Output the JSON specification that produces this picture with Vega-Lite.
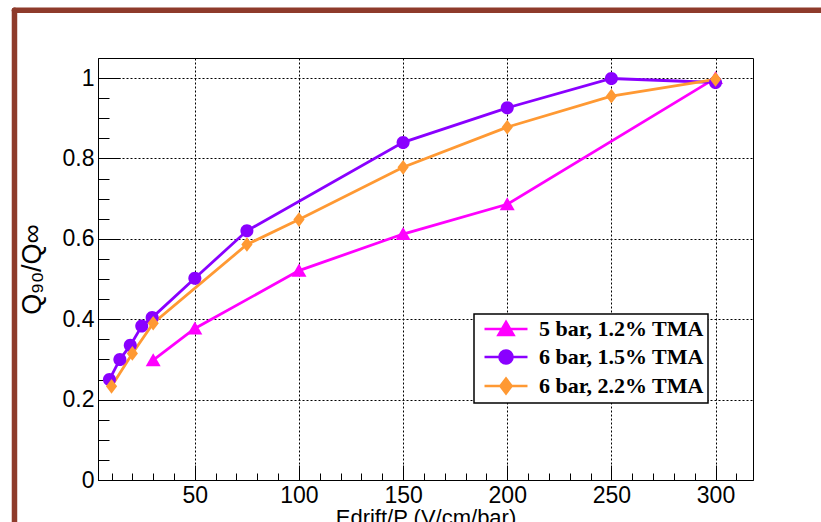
{
  "$schema": "https://vega.github.io/schema/vega-lite/v6.json",
  "width": 655,
  "height": 422,
  "autosize": {"type": "none"},
  "padding": {"left": 98, "top": 58, "right": 68, "bottom": 42},
  "background": "white",
  "config": {
    "view": {"stroke": "black", "strokeWidth": 1},
    "legend": {"strokeWidth": 1.5}
  },
  "resolve": {"axis": {"x": "independent", "y": "independent"}},
  "data": {
    "values": [
      {"series": "5 bar, 1.2% TMA", "E": 30, "Q": 0.298},
      {"series": "5 bar, 1.2% TMA", "E": 50, "Q": 0.377},
      {"series": "5 bar, 1.2% TMA", "E": 100, "Q": 0.521},
      {"series": "5 bar, 1.2% TMA", "E": 150, "Q": 0.612},
      {"series": "5 bar, 1.2% TMA", "E": 200, "Q": 0.686},
      {"series": "5 bar, 1.2% TMA", "E": 300, "Q": 1.0},
      {"series": "6 bar, 1.5% TMA", "E": 9, "Q": 0.25},
      {"series": "6 bar, 1.5% TMA", "E": 14, "Q": 0.3},
      {"series": "6 bar, 1.5% TMA", "E": 19, "Q": 0.335},
      {"series": "6 bar, 1.5% TMA", "E": 24.5, "Q": 0.383},
      {"series": "6 bar, 1.5% TMA", "E": 29.5, "Q": 0.404},
      {"series": "6 bar, 1.5% TMA", "E": 50, "Q": 0.502},
      {"series": "6 bar, 1.5% TMA", "E": 75, "Q": 0.62},
      {"series": "6 bar, 1.5% TMA", "E": 150, "Q": 0.84},
      {"series": "6 bar, 1.5% TMA", "E": 200, "Q": 0.926},
      {"series": "6 bar, 1.5% TMA", "E": 250, "Q": 0.999},
      {"series": "6 bar, 1.5% TMA", "E": 300, "Q": 0.989},
      {"series": "6 bar, 2.2% TMA", "E": 10, "Q": 0.233},
      {"series": "6 bar, 2.2% TMA", "E": 20, "Q": 0.315},
      {"series": "6 bar, 2.2% TMA", "E": 30, "Q": 0.39},
      {"series": "6 bar, 2.2% TMA", "E": 75, "Q": 0.586},
      {"series": "6 bar, 2.2% TMA", "E": 100, "Q": 0.648},
      {"series": "6 bar, 2.2% TMA", "E": 150, "Q": 0.778},
      {"series": "6 bar, 2.2% TMA", "E": 200, "Q": 0.878},
      {"series": "6 bar, 2.2% TMA", "E": 250, "Q": 0.955},
      {"series": "6 bar, 2.2% TMA", "E": 300, "Q": 0.997}
    ]
  },
  "layer": [
    {
      "mark": {"type": "line", "strokeWidth": 2.8},
      "encoding": {
        "x": {
          "field": "E",
          "type": "quantitative",
          "scale": {"domain": [3.5, 318], "nice": false, "zero": false},
          "axis": {
            "orient": "bottom",
            "title": "Edrift/P (V/cm/bar)",
            "values": [50, 100, 150, 200, 250, 300],
            "tickSize": -15,
            "labelPadding": 19,
            "grid": true,
            "gridDash": [2, 2],
            "gridColor": "black",
            "gridWidth": 1,
            "gridOpacity": 1,
            "tickColor": "black",
            "tickWidth": 1,
            "domainColor": "black",
            "labelFont": "Liberation Sans",
            "labelFontSize": 23,
            "labelColor": "black",
            "labelFlush": false,
            "labelOverlap": false,
            "labelBound": false,
            "titleFont": "Liberation Sans",
            "titleFontSize": 22,
            "titleFontWeight": "normal",
            "titleColor": "black",
            "titlePadding": 0
          }
        },
        "y": {
          "field": "Q",
          "type": "quantitative",
          "scale": {"domain": [0, 1.05], "nice": false},
          "axis": {
            "orient": "left",
            "title": "Q₉₀/Q∞",
            "values": [0, 0.2, 0.4, 0.6, 0.8, 1],
            "labelExpr": "format(datum.value, '.1~f')",
            "tickSize": -22,
            "labelPadding": 26,
            "grid": true,
            "gridDash": [2, 2],
            "gridColor": "black",
            "gridWidth": 1,
            "gridOpacity": 1,
            "tickColor": "black",
            "tickWidth": 1,
            "domainColor": "black",
            "labelFont": "Liberation Sans",
            "labelFontSize": 23,
            "labelColor": "black",
            "labelFlush": false,
            "labelOverlap": false,
            "labelBound": false,
            "titleFont": "Liberation Sans",
            "titleFontSize": 27,
            "titleFontWeight": "normal",
            "titleColor": "black",
            "titlePadding": 16
          }
        },
        "color": {
          "field": "series",
          "type": "nominal",
          "scale": {
            "domain": ["5 bar, 1.2% TMA", "6 bar, 1.5% TMA", "6 bar, 2.2% TMA"],
            "range": ["#ff00ff", "#8a00ff", "#ff9933"]
          },
          "legend": {
            "title": null,
            "orient": "none",
            "legendX": 376,
            "legendY": 256,
            "padding": 4,
            "symbolOffset": 17,
            "labelOffset": 22,
            "rowPadding": 4,
            "symbolSize": 196,
            "symbolStrokeWidth": 2.6,
            "labelFont": "Liberation Serif",
            "labelFontWeight": "bold",
            "labelFontSize": 22,
            "labelColor": "black",
            "labelLimit": 400,
            "fillColor": "white",
            "strokeColor": "black",
            "encode": {
              "symbols": {
                "update": {
                  "shape": {"signal": "datum.value === '5 bar, 1.2% TMA' ? 'M-3.07,0L3.07,0M0,-1L1.07,0.86L-1.07,0.86Z' : datum.value === '6 bar, 1.5% TMA' ? 'M-3.07,0L3.07,0M-0.93,0A0.93,0.93,0,1,0,0.93,0A0.93,0.93,0,1,0,-0.93,0Z' : 'M-3.07,0L3.07,0M0,-1.05L0.8,0L0,1.05L-0.8,0Z'"},
                  "strokeWidth": {"value": 2.6},
                  "opacity": {"value": 1}
                }
              }
            }
          }
        }
      }
    },
    {
      "transform": [{"filter": "datum.series === '5 bar, 1.2% TMA'"}],
      "mark": {"type": "point", "filled": true, "size": 196, "opacity": 1, "shape": "M0,-1L1.07,0.86L-1.07,0.86Z"},
      "encoding": {
        "x": {
          "field": "E",
          "type": "quantitative",
          "axis": {
            "orient": "bottom",
            "values": [10, 20, 30, 40, 60, 70, 80, 90, 110, 120, 130, 140, 160, 170, 180, 190, 210, 220, 230, 240, 260, 270, 280, 290, 310],
            "tickSize": -7,
            "tickColor": "black",
            "tickWidth": 1,
            "labels": false,
            "grid": false,
            "domain": false,
            "title": null
          }
        },
        "y": {
          "field": "Q",
          "type": "quantitative",
          "axis": {
            "orient": "left",
            "values": [0.05, 0.1, 0.15, 0.25, 0.3, 0.35, 0.45, 0.5, 0.55, 0.65, 0.7, 0.75, 0.85, 0.9, 0.95],
            "tickSize": -11,
            "tickColor": "black",
            "tickWidth": 1,
            "labels": false,
            "grid": false,
            "domain": false,
            "title": null
          }
        },
        "color": {"field": "series", "type": "nominal"}
      }
    },
    {
      "transform": [{"filter": "datum.series === '6 bar, 1.5% TMA'"}],
      "mark": {"type": "point", "filled": true, "size": 196, "opacity": 1, "shape": "M-0.93,0A0.93,0.93,0,1,0,0.93,0A0.93,0.93,0,1,0,-0.93,0Z"},
      "encoding": {
        "x": {"field": "E", "type": "quantitative", "axis": null},
        "y": {"field": "Q", "type": "quantitative", "axis": null},
        "color": {"field": "series", "type": "nominal"}
      }
    },
    {
      "transform": [{"filter": "datum.series === '6 bar, 2.2% TMA'"}],
      "mark": {"type": "point", "filled": true, "size": 196, "opacity": 1, "shape": "M0,-1.05L0.8,0L0,1.05L-0.8,0Z"},
      "encoding": {
        "x": {"field": "E", "type": "quantitative", "axis": null},
        "y": {"field": "Q", "type": "quantitative", "axis": null},
        "color": {"field": "series", "type": "nominal"}
      }
    },
    {
      "data": {"values": [{}]},
      "mark": {"type": "rule", "color": "#8e3b2b", "strokeWidth": 5.5, "strokeCap": "round"},
      "encoding": {
        "x": {"datum": -36.6, "type": "quantitative", "axis": null},
        "y": {"datum": 1.1687, "type": "quantitative", "axis": null},
        "y2": {"datum": -0.3}
      }
    },
    {
      "data": {"values": [{}]},
      "mark": {"type": "rule", "color": "#8e3b2b", "strokeWidth": 5.5, "strokeCap": "round"},
      "encoding": {
        "x": {"datum": -36.6, "type": "quantitative", "axis": null},
        "x2": {"datum": 370},
        "y": {"datum": 1.1687, "type": "quantitative", "axis": null}
      }
    }
  ]
}
